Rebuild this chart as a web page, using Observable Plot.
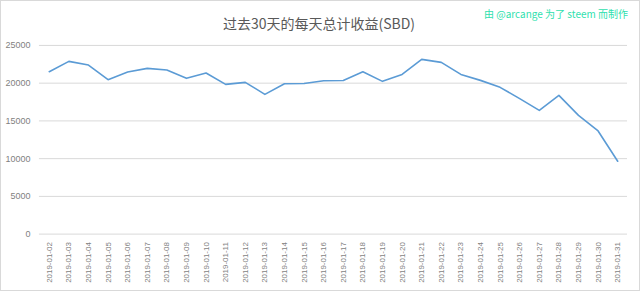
<!DOCTYPE html>
<html><head><meta charset="utf-8">
<script src="https://cdn.jsdelivr.net/npm/d3@7"></script>
<script src="https://cdn.jsdelivr.net/npm/@observablehq/plot@0.6"></script>
<style>
body{margin:0;background:#fff;}
#wrap{position:relative;width:640px;height:291px;box-sizing:border-box;border:1px solid #d9d9d9;overflow:hidden;background:#fff;}
#title{position:absolute;left:0;top:0;width:636px;text-align:center;font:14px "Noto Sans CJK SC",sans-serif;color:#595959;line-height:44px;}
#sub{position:absolute;right:11px;top:5px;font:10px "Noto Sans CJK SC",sans-serif;color:#2fdfae;white-space:nowrap;}
#chart{position:absolute;left:-1px;top:-1px;}
</style></head>
<body><div id="wrap"><div id="title">过去30天的每天总计收益(SBD)</div><div id="sub">由 @arcange 为了 steem 而制作</div><div id="chart"></div></div>
<script>
const dates = ["2019-01-02","2019-01-03","2019-01-04","2019-01-05","2019-01-06","2019-01-07","2019-01-08","2019-01-09","2019-01-10","2019-01-11","2019-01-12","2019-01-13","2019-01-14","2019-01-15","2019-01-16","2019-01-17","2019-01-18","2019-01-19","2019-01-20","2019-01-21","2019-01-22","2019-01-23","2019-01-24","2019-01-25","2019-01-26","2019-01-27","2019-01-28","2019-01-29","2019-01-30","2019-01-31"];
const values = [21520,22890,22400,20460,21470,21960,21740,20640,21340,19840,20110,18520,19930,19950,20330,20350,21520,20240,21160,23150,22750,21160,20370,19450,17950,16400,18390,15740,13670,9660];
const yTicks = [0,5000,10000,15000,20000,25000];
const data = dates.map((d,i)=>({date:d,value:values[i]}));
const chart = Plot.plot({
  width:640,height:291,
  marginTop:45,marginBottom:57,marginLeft:39,marginRight:12,
  style:{fontFamily:"'Liberation Sans',sans-serif",color:"#7f7f7f",background:"transparent"},
  x:{type:"point",domain:dates,padding:0.5,round:false,label:null},
  y:{domain:[0,25000],label:null},
  marks:[
    Plot.gridY(yTicks,{stroke:"#d9d9d9",strokeOpacity:1,strokeWidth:1}),
    Plot.axisY(yTicks,{tickSize:0,tickPadding:9,fontSize:9,fill:"#7f7f7f",label:null,tickFormat:d=>String(d)}),
    Plot.axisX(dates,{tickSize:0,tickPadding:8,tickRotate:-90,fontSize:8,fill:"#7f7f7f",label:null}),
    Plot.line(data,{x:"date",y:"value",stroke:"#5b9bd5",strokeWidth:1.6})
  ]
});
document.getElementById("chart").appendChild(chart);
</script></body></html>
